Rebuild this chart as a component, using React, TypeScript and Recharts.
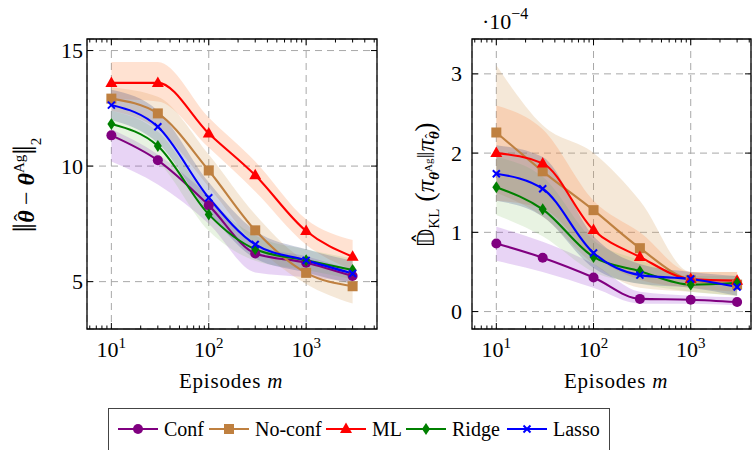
import React from 'react';
import { ComposedChart, Line, Area, XAxis, YAxis, CartesianGrid, ReferenceLine, ReferenceArea } from 'recharts';

const FONT = "'Liberation Serif', 'Times New Roman', 'DejaVu Serif', serif";

const episodes = [10, 30, 100, 300, 1000, 3000];

// left panel: ||theta_hat - theta_Ag||_2  (mean, lower, upper)
const errConf = [11.33, 10.25, 8.3, 6.22, 5.82, 5.24];
const errConfLo = [10.2, 9.2, 7.5, 5.4, 5.2, 5.0];
const errConfHi = [11.6, 10.5, 8.7, 6.6, 6.1, 5.5];
const errNoConf = [12.92, 12.28, 9.81, 7.22, 5.38, 4.8];
const errNoConfLo = [12.4, 11.6, 9.1, 6.6, 4.9, 4.05];
const errNoConfHi = [13.4, 13.0, 10.5, 7.9, 5.9, 5.4];
const errMl = [13.6, 13.6, 11.41, 9.6, 7.19, 6.08];
const errMlLo = [12.9, 12.8, 10.8, 8.9, 6.6, 5.5];
const errMlHi = [14.5, 14.5, 12.1, 10.2, 7.7, 6.8];
const errRidge = [11.82, 10.87, 7.91, 6.4, 5.92, 5.5];
const errRidgeLo = [11.2, 10.2, 7.2, 5.9, 5.5, 5.1];
const errRidgeHi = [12.4, 11.5, 8.6, 7.0, 6.4, 6.0];
const errLasso = [12.64, 11.7, 8.63, 6.61, 5.92, 5.35];
const errLassoLo = [12.0, 11.0, 8.0, 6.0, 5.4, 4.9];
const errLassoHi = [13.3, 12.4, 9.3, 7.2, 6.4, 5.9];

// right panel: KL divergence, in units of 1e-4
const klConf = [0.86, 0.68, 0.43, 0.16, 0.15, 0.12];
const klConfLo = [0.64, 0.5, 0.3, 0.1, 0.1, 0.08];
const klConfHi = [1.07, 0.88, 0.6, 0.25, 0.2, 0.18];
const klNoConf = [2.26, 1.77, 1.28, 0.8, 0.4, 0.34];
const klNoConfLo = [1.5, 1.2, 0.6, 0.3, 0.25, 0.2];
const klNoConfHi = [3.11, 2.35, 2.0, 1.4, 0.5, 0.5];
const klMl = [2.0, 1.87, 1.03, 0.69, 0.41, 0.39];
const klMlLo = [1.4, 1.3, 0.7, 0.4, 0.3, 0.25];
const klMlHi = [2.6, 2.3, 1.4, 1.0, 0.5, 0.5];
const klRidge = [1.57, 1.29, 0.69, 0.51, 0.34, 0.36];
const klRidgeLo = [1.22, 0.95, 0.5, 0.35, 0.25, 0.2];
const klRidgeHi = [1.95, 1.7, 0.9, 0.65, 0.45, 0.45];
const klLasso = [1.74, 1.55, 0.74, 0.46, 0.41, 0.31];
const klLassoLo = [1.4, 1.2, 0.55, 0.35, 0.3, 0.2];
const klLassoHi = [2.1, 1.95, 0.95, 0.6, 0.5, 0.45];

const xMajor = [10, 100, 1000];
const xMinor = [6, 7, 8, 9, 20, 30, 40, 50, 60, 70, 80, 90, 200, 300, 400, 500, 600, 700, 800, 900, 2000, 3000, 4000, 5000];
const errTicks = [5, 10, 15];
const klTicks = [0, 1, 2, 3];

const series = [
  { key: 'conf', name: 'Conf', color: '#800080', band: '#a552d6', bandOpacity: 0.25, shape: 'circle', legendX: 9 },
  { key: 'noconf', name: 'No-conf', color: '#bf8040', band: '#d8a262', bandOpacity: 0.25, shape: 'square', legendX: 100 },
  { key: 'ml', name: 'ML', color: '#ff0000', band: '#ff8a4a', bandOpacity: 0.25, shape: 'triangle', legendX: 217 },
  { key: 'ridge', name: 'Ridge', color: '#008000', band: '#8cc46e', bandOpacity: 0.2, shape: 'diamond', legendX: 297 },
  { key: 'lasso', name: 'Lasso', color: '#0000ff', band: '#3c4a88', bandOpacity: 0.25, shape: 'cross', legendX: 398 },
];

const buildRows = (vals: Record<string, number[][]>) =>
  episodes.map((m, i) => {
    const row: any = { m };
    series.forEach((s) => {
      const [mean, lo, hi] = vals[s.key];
      row[s.key] = mean[i];
      row[s.key + 'Band'] = [lo[i], hi[i]];
    });
    return row;
  });

const errRows = buildRows({
  conf: [errConf, errConfLo, errConfHi],
  noconf: [errNoConf, errNoConfLo, errNoConfHi],
  ml: [errMl, errMlLo, errMlHi],
  ridge: [errRidge, errRidgeLo, errRidgeHi],
  lasso: [errLasso, errLassoLo, errLassoHi],
});

const klRows = buildRows({
  conf: [klConf, klConfLo, klConfHi],
  noconf: [klNoConf, klNoConfLo, klNoConfHi],
  ml: [klMl, klMlLo, klMlHi],
  ridge: [klRidge, klRidgeLo, klRidgeHi],
  lasso: [klLasso, klLassoLo, klLassoHi],
});

const drawMarker = (shape: string, cx: number, cy: number, color: string, key?: string) => {
  if (cx == null || cy == null) return <g key={key} />;
  switch (shape) {
    case 'circle':
      return <circle key={key} cx={cx} cy={cy} r={5} fill={color} />;
    case 'square':
      return <rect key={key} x={cx - 5} y={cy - 5} width={10} height={10} fill={color} />;
    case 'triangle':
      return <polygon key={key} points={`${cx},${cy - 6.5} ${cx - 6},${cy + 4} ${cx + 6},${cy + 4}`} fill={color} />;
    case 'diamond':
      return <polygon key={key} points={`${cx},${cy - 6} ${cx + 4},${cy} ${cx},${cy + 6} ${cx - 4},${cy}`} fill={color} />;
    default:
      return (
        <g key={key} stroke={color} strokeWidth={2}>
          <line x1={cx - 3.5} y1={cy - 3.5} x2={cx + 3.5} y2={cy + 3.5} />
          <line x1={cx - 3.5} y1={cy + 3.5} x2={cx + 3.5} y2={cy - 3.5} />
        </g>
      );
  }
};

const PowTick = (props: any) => {
  const { x, y, payload } = props;
  const e = Math.round(Math.log10(payload.value));
  return (
    <text x={x} y={y + 28} textAnchor="middle" fontFamily={FONT} fontSize={22} fill="#000">
      10<tspan dy={-9} fontSize={15}>{e}</tspan>
    </text>
  );
};

const makeYTick = (dx: number) => (props: any) => (
  <text x={props.x - dx} y={props.y} textAnchor="end" dominantBaseline="central" fontFamily={FONT} fontSize={22} fill="#000">
    {props.payload.value}
  </text>
);

interface PanelProps {
  rows: any[];
  width: number;
  height: number;
  margin: { top: number; right: number; bottom: number; left: number };
  xDomain: [number, number];
  yDomain: [number, number];
  yTicks: number[];
  yTickDx: number;
}

const X_AXIS_H = 71;
const Y_AXIS_W = 60;
const MAJOR_LEN = 6;
const MINOR_LEN = 3.5;

const Panel: React.FC<PanelProps> = ({ rows, width, height, margin, xDomain, yDomain, yTicks, yTickDx }) => {
  const minor = xMinor.filter((v) => v > xDomain[0] && v < xDomain[1]);
  const plotW = width - margin.left - margin.right - Y_AXIS_W;
  const plotH = height - margin.top - margin.bottom - X_AXIS_H;
  const [y0, y1] = yDomain;
  const [x0, x1] = xDomain;
  // convert tick lengths from pixels to data units
  const yPer = (px: number) => (px * (y1 - y0)) / plotH;
  const xFac = (px: number) => Math.pow(10, (px * Math.log10(x1 / x0)) / plotW);

  const ticks: { seg: { x: number; y: number }[]; id: string }[] = [];
  const addX = (v: number, len: number) => {
    ticks.push({ id: `b${v}`, seg: [{ x: v, y: y0 }, { x: v, y: y0 + yPer(len) }] });
    ticks.push({ id: `t${v}`, seg: [{ x: v, y: y1 }, { x: v, y: y1 - yPer(len) }] });
  };
  xMajor.forEach((v) => addX(v, MAJOR_LEN));
  minor.forEach((v) => addX(v, MINOR_LEN));
  yTicks.forEach((v) => {
    ticks.push({ id: `l${v}`, seg: [{ x: x0, y: v }, { x: x0 * xFac(MAJOR_LEN), y: v }] });
    ticks.push({ id: `r${v}`, seg: [{ x: x1, y: v }, { x: x1 / xFac(MAJOR_LEN), y: v }] });
  });

  return (
    <ComposedChart width={width} height={height} data={rows} margin={margin}>
      <CartesianGrid xAxisId="x" yAxisId="y" stroke="#a8a8a8" strokeDasharray="7 5" />
      <XAxis
        xAxisId="x"
        type="number"
        dataKey="m"
        scale="log"
        domain={xDomain}
        allowDataOverflow
        interval={0}
        ticks={xMajor}
        height={X_AXIS_H}
        tickLine={false}
        tickSize={0}
        tickMargin={0}
        tick={PowTick}
        axisLine={false}
      />
      <YAxis
        yAxisId="y"
        type="number"
        domain={yDomain}
        allowDataOverflow
        interval={0}
        ticks={yTicks}
        width={Y_AXIS_W}
        tickLine={false}
        tickSize={0}
        tickMargin={0}
        tick={makeYTick(yTickDx)}
        axisLine={false}
      />
      {series.map((s) => (
        <Area
          key={s.key + 'Band'}
          xAxisId="x"
          yAxisId="y"
          type="monotone"
          dataKey={s.key + 'Band'}
          stroke="none"
          fill={s.band}
          fillOpacity={s.bandOpacity}
          isAnimationActive={false}
          activeDot={false}
        />
      ))}
      {series.map((s) => (
        <Line
          key={s.key}
          xAxisId="x"
          yAxisId="y"
          type="monotone"
          dataKey={s.key}
          stroke={s.color}
          strokeWidth={2.1}
          isAnimationActive={false}
          activeDot={false}
          dot={(p: any) => drawMarker(s.shape, p.cx, p.cy, s.color, `${s.key}-${p.index}`)}
        />
      ))}
      {ticks.map((t) => (
        <ReferenceLine key={t.id} xAxisId="x" yAxisId="y" segment={t.seg} stroke="#000" strokeWidth={1} ifOverflow="visible" />
      ))}
      <ReferenceArea xAxisId="x" yAxisId="y" x1={x0} x2={x1} y1={y0} y2={y1} fill="none" stroke="#000" strokeWidth={1.3} ifOverflow="visible" />
    </ComposedChart>
  );
};

const LegendBox = () => (
  <div
    style={{
      position: 'absolute',
      left: 108,
      top: 408,
      width: 502,
      height: 60,
      border: '1.3px solid #444',
      boxSizing: 'border-box',
      fontFamily: FONT,
      fontSize: 20,
      whiteSpace: 'nowrap',
    }}
  >
    {series.map((s) => (
      <div key={s.key} style={{ position: 'absolute', left: s.legendX, top: 10, display: 'flex', alignItems: 'center' }}>
        <svg width={40} height={20} style={{ marginRight: 6 }}>
          <line x1={0} y1={10} x2={40} y2={10} stroke={s.color} strokeWidth={2.2} />
          {drawMarker(s.shape, 20, 10, s.color)}
        </svg>
        <span style={{ lineHeight: '20px' }}>{s.name}</span>
      </div>
    ))}
  </div>
);

const Labels = () => (
  <svg width={754} height={450} style={{ position: 'absolute', left: 0, top: 0, pointerEvents: 'none' }} fontFamily={FONT} fill="#000">
    <text x={231} y={388} textAnchor="middle" fontSize={21} letterSpacing={0.8}>
      Episodes <tspan fontStyle="italic">m</tspan>
    </text>
    <text x={616} y={388} textAnchor="middle" fontSize={21} letterSpacing={0.8}>
      Episodes <tspan fontStyle="italic">m</tspan>
    </text>
    <text x={482} y={29} fontSize={22}>
      ·10<tspan dy={-10} fontSize={16}>−4</tspan>
    </text>
    <text x={34} y={185} transform="rotate(-90 34 185)" textAnchor="middle" fontSize={24}>
      <tspan fontSize={34} dy={2}>‖</tspan>
      <tspan fontWeight="bold" fontStyle="italic" dy={-2}>θ</tspan>
      <tspan fontSize={22} dx={-11} dy={-5}>ˆ</tspan>
      <tspan dx={3} dy={5}> − </tspan>
      <tspan fontWeight="bold" fontStyle="italic">θ</tspan>
      <tspan fontSize={15} dy={-10}>Ag</tspan>
      <tspan fontSize={34} dy={12}>‖</tspan>
      <tspan fontSize={15} dy={5}>2</tspan>
    </text>
    <text x={434} y={185} transform="rotate(-90 434 185)" textAnchor="middle" fontSize={25}>
      <tspan fontFamily="'DejaVu Sans', sans-serif" fontSize={23}>𝔻̂</tspan>
      <tspan fontSize={15} dy={5}>KL</tspan>
      <tspan dy={-5} fontSize={28}> (</tspan>
      <tspan fontStyle="italic">π</tspan>
      <tspan fontSize={15} dy={5} fontWeight="bold" fontStyle="italic">θ</tspan>
      <tspan fontSize={11} dy={-7}>Ag</tspan>
      <tspan dy={2}>‖</tspan>
      <tspan fontStyle="italic">π</tspan>
      <tspan fontSize={15} dy={5} fontWeight="bold" fontStyle="italic">θ</tspan>
      <tspan fontSize={13} dx={-7} dy={-5}>ˆ</tspan>
      <tspan dx={2} fontSize={28}>)</tspan>
    </text>
  </svg>
);

export default function App() {
  return (
    <div style={{ position: 'absolute', left: 0, top: 0, width: 754, height: 450, overflow: 'hidden', background: '#fff' }}>
      <div style={{ position: 'absolute', left: 0, top: 0 }}>
        <Panel
          rows={errRows}
          width={390}
          height={400}
          margin={{ top: 39, right: 13, bottom: 0, left: 27 }}
          xDomain={[5.62, 5340]}
          yDomain={[2.95, 15.5]}
          yTicks={errTicks}
          yTickDx={4}
        />
      </div>
      <div style={{ position: 'absolute', left: 380, top: 0 }}>
        <Panel
          rows={klRows}
          width={374}
          height={400}
          margin={{ top: 39, right: 3, bottom: 0, left: 32 }}
          xDomain={[5.62, 4170]}
          yDomain={[-0.22, 3.44]}
          yTicks={klTicks}
          yTickDx={10}
        />
      </div>
      <Labels />
      <LegendBox />
    </div>
  );
}
